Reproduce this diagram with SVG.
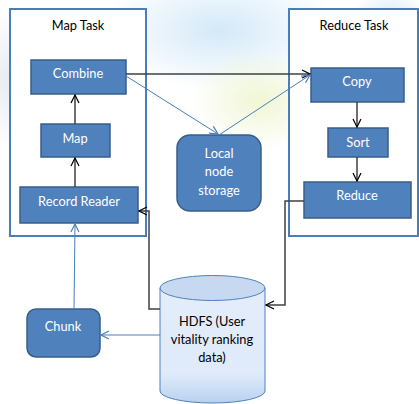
<svg xmlns="http://www.w3.org/2000/svg" width="419" height="404" viewBox="0 0 419 404">
<style>
.task{fill:#fff;stroke:#4a7ebb;stroke-width:2}
.box{fill:#4f81bd;stroke:#385d8a;stroke-width:1.5}
.t{font-family:Lato,"Liberation Sans",sans-serif;font-size:12.8px;text-anchor:middle}
.w{fill:#fff}
.k{fill:#000}
.dk{fill:none;stroke:#404040;stroke-width:1.5}
.bl{fill:none;stroke:#4a7ebb;stroke-width:1}
</style>
<defs>
<marker id="mk" markerWidth="10" markerHeight="10" refX="9" refY="5" orient="auto" markerUnits="userSpaceOnUse">
<path d="M1,1 L9,5 L1,9" fill="none" stroke="#000" stroke-width="1.2"/>
</marker>
<marker id="mb" markerWidth="10" markerHeight="10" refX="9" refY="5" orient="auto" markerUnits="userSpaceOnUse">
<path d="M1,1 L9,5 L1,9" fill="none" stroke="#4a7ebb" stroke-width="1.2"/>
</marker>
<linearGradient id="cyl" x1="0" y1="0" x2="0" y2="1">
<stop offset="0" stop-color="#e3edfa"/>
<stop offset="0.75" stop-color="#dfeafa"/>
<stop offset="1" stop-color="#b9d1f0"/>
</linearGradient>
<radialGradient id="g1"><stop offset="0" stop-color="#cfe6f7" stop-opacity="0.9"/><stop offset="1" stop-color="#cfe6f7" stop-opacity="0"/></radialGradient>
<radialGradient id="g2"><stop offset="0" stop-color="#eef5d0" stop-opacity="0.9"/><stop offset="1" stop-color="#eef5d0" stop-opacity="0"/></radialGradient>
<radialGradient id="g3"><stop offset="0" stop-color="#dde2e8" stop-opacity="0.7"/><stop offset="1" stop-color="#dde2e8" stop-opacity="0"/></radialGradient>
</defs>
<rect width="419" height="404" fill="#fff"/>
<g id="background">
<ellipse cx="220" cy="30" rx="120" ry="60" fill="url(#g1)"/>
<ellipse cx="260" cy="100" rx="70" ry="50" fill="url(#g2)"/>
<ellipse cx="10" cy="80" rx="40" ry="70" fill="url(#g3)"/>
<ellipse cx="390" cy="20" rx="40" ry="30" fill="url(#g1)"/>
</g>
<g id="map-task">
<rect class="task" x="10" y="9" width="136" height="227"/>
<text class="t k" x="78" y="30">Map Task</text>
</g>
<g id="reduce-task">
<rect class="task" x="289" y="9" width="129" height="227"/>
<text class="t k" x="354" y="30">Reduce Task</text>
</g>
<g id="combine">
<rect class="box" x="31" y="60" width="95" height="34"/>
<text class="t w" x="78" y="78">Combine</text>
</g>
<g id="map">
<rect class="box" x="41" y="124" width="69" height="33"/>
<text class="t w" x="75" y="143">Map</text>
</g>
<g id="record-reader">
<rect class="box" x="20" y="187" width="118" height="36"/>
<text class="t w" x="79" y="206">Record Reader</text>
</g>
<g id="copy">
<rect class="box" x="311" y="68" width="93" height="34"/>
<text class="t w" x="357" y="86">Copy</text>
</g>
<g id="sort">
<rect class="box" x="328" y="128" width="60" height="29"/>
<text class="t w" x="358" y="147">Sort</text>
</g>
<g id="reduce">
<rect class="box" x="304" y="182" width="107" height="36"/>
<text class="t w" x="357" y="200">Reduce</text>
</g>
<g id="local-node-storage">
<rect class="box" x="177" y="135" width="84" height="76" rx="13"/>
<text class="t w" x="219" y="158">Local</text>
<text class="t w" x="219" y="176">node</text>
<text class="t w" x="219" y="195">storage</text>
</g>
<g id="chunk">
<rect class="box" x="27" y="309" width="73" height="48" rx="9"/>
<text class="t w" x="63" y="331">Chunk</text>
</g>
<g id="hdfs">
<path d="M160,288 L160,391 A52.5,12 0 0 0 265,391 L265,288" fill="url(#cyl)" stroke="#4f81bd" stroke-width="1"/>
<ellipse cx="212.5" cy="288" rx="52.5" ry="12.5" fill="#c6d9f1" stroke="#4f81bd" stroke-width="1"/>
<text class="t k" x="212" y="326">HDFS (User</text>
<text class="t k" x="212" y="344">vitality ranking</text>
<text class="t k" x="212" y="362">data)</text>
</g>
<g id="connectors">
<line class="dk" x1="75" y1="187" x2="75" y2="158" stroke="#000" marker-end="url(#mk)"/>
<line class="dk" x1="75" y1="124" x2="75" y2="95" stroke="#000" marker-end="url(#mk)"/>
<line class="dk" x1="357" y1="102" x2="357" y2="127" stroke="#000" marker-end="url(#mk)"/>
<line class="dk" x1="357" y1="157" x2="357" y2="181" stroke="#000" marker-end="url(#mk)"/>
<line class="dk" x1="126" y1="74" x2="310" y2="74" marker-end="url(#mk)"/>
<line class="bl" x1="126" y1="76" x2="218" y2="134" marker-end="url(#mb)"/>
<line class="bl" x1="219" y1="135" x2="310" y2="75" marker-end="url(#mb)"/>
<polyline class="dk" points="304,201 285,201 285,305 266,305" marker-end="url(#mk)"/>
<polyline class="dk" points="160,309 149,309 149,211 139,211" marker-end="url(#mk)"/>
<line class="bl" x1="160" y1="335" x2="101" y2="335" marker-end="url(#mb)"/>
<line class="bl" x1="74" y1="309" x2="75" y2="224" marker-end="url(#mb)"/>
</g>
</svg>
